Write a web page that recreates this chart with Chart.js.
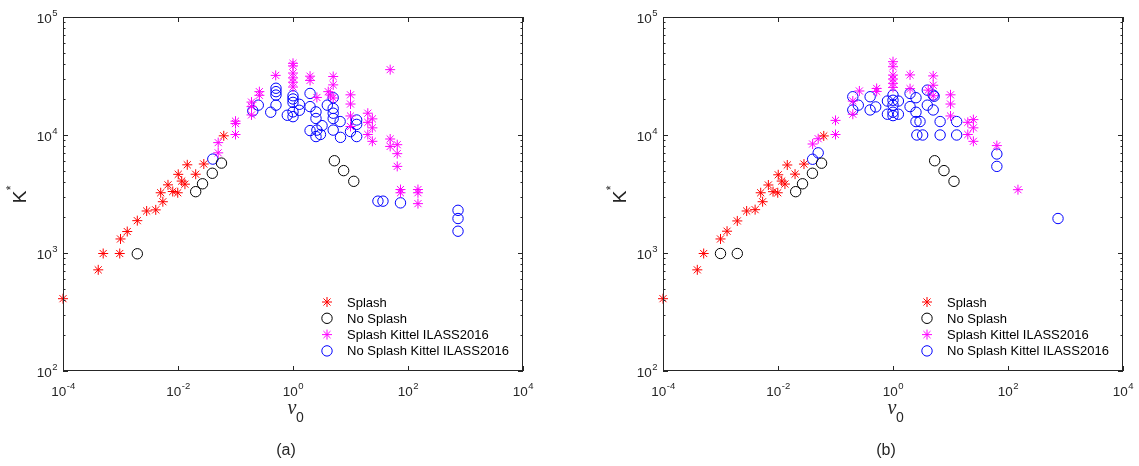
<!DOCTYPE html>
<html>
<head>
<meta charset="utf-8">
<script src="https://cdn.jsdelivr.net/npm/chart.js@4.4.1/dist/chart.umd.min.js"></script>
<style>
  body { margin: 0; background: #fff; width: 1139px; height: 466px; overflow: hidden; position: relative; }
  canvas { position: absolute; top: 0; }
  #ca { left: 0; }
  #cb { left: 570px; }
</style>
</head>
<body>
<canvas id="ca" width="570" height="466"></canvas>
<canvas id="cb" width="569" height="466"></canvas>
<script>
// Panel (a) (nu_0, K*)
const A_SPLASH_NU = [1e-4, 4.1e-4, 5.0e-4, 9.7e-4, 1.0e-3, 1.31e-3, 1.96e-3, 2.85e-3, 4.1e-3, 5.45e-3, 5.0e-3,
  6.7e-3, 8.1e-3, 0.0099, 0.0101, 0.0116, 0.0132, 0.0145, 0.0203, 0.0281, 0.0625];
const A_SPLASH_K = [410, 720, 990, 990, 1315, 1520, 1880, 2270, 2320, 2720, 3240,
  3780, 3320, 3240, 4640, 4070, 3830, 5590, 4650, 5680, 9840];

const A_NOSPLASH_NU = [1.96e-3, 0.0203, 0.0267, 0.0395, 0.057, 5.24, 7.6, 11.4];
const A_NOSPLASH_K = [985, 3310, 3860, 4740, 5780, 6050, 4990, 4050];

const A_KITTEL_SPLASH_NU = [1, 1, 1, 1, 1, 1, 0.5, 1.98, 1.98, 5.0, 5.0, 4.1, 4.5, 5.0, 2.6,
  10, 10, 10, 10, 0.26, 0.26, 0.19, 0.19, 0.19, 0.1, 0.1, 0.1, 0.05, 0.05,
  20, 20, 20, 24, 24, 24, 49, 49, 49, 65, 65, 65, 74, 74, 149, 149, 149];
const A_KITTEL_SPLASH_K = [40500, 38500, 33500, 30500, 28000, 25500, 32000, 31500, 29000, 31300, 26600, 23300, 21800, 20600, 20800,
  21900, 18300, 14500, 11800, 23300, 21700, 19000, 17400, 14800, 13100, 12500, 10100, 8620, 7060,
  15300, 12800, 10100, 13700, 11500, 8840, 35800, 9250, 8000, 8280, 6950, 5420, 3450, 3240, 3450, 3240, 2620];

const A_KITTEL_NOSPLASH_NU = [0.0403, 0.2, 0.249, 0.41, 0.506, 0.506, 0.506, 0.506, 0.796,
  1, 1, 1, 1, 1, 1.29, 1.29, 1.98, 1.98, 2.51, 2.51, 1.98, 2.6, 2.51, 3.0, 3.2,
  3.95, 5.0, 5.0, 5.0, 5.0, 5.0, 6.6, 6.7, 10, 12.8, 12.8, 12.8, 30, 36.7, 74, 741, 741, 741];
const A_KITTEL_NOSPLASH_K = [6250, 16000, 17900, 15600, 24900, 23300, 21800, 17900, 14700,
  21500, 20200, 18900, 15700, 14300, 18200, 16200, 22500, 17400, 15700, 13800, 10900, 11000, 9700, 10100, 12000,
  17900, 20700, 16800, 15300, 13800, 11000, 13000, 9550, 10700, 13400, 12300, 9700, 2750, 2750, 2660, 2300, 1960, 1530];

// Panel (b)
const B_SPLASH_NU = [1e-4, 3.95e-4, 5.1e-4, 1.0e-3, 1.3e-3, 1.96e-3, 2.85e-3, 4.0e-3, 5.4e-3, 5.0e-3,
  6.8e-3, 8.2e-3, 0.0099, 0.0101, 0.0116, 0.0132, 0.0145, 0.0198, 0.0283, 0.0625];
const B_SPLASH_K = [410, 720, 990, 1315, 1530, 1870, 2270, 2330, 2720, 3240,
  3770, 3310, 3240, 4600, 4070, 3840, 5570, 4660, 5670, 9820];

const B_NOSPLASH_NU = [1.0e-3, 1.96e-3, 0.0203, 0.0267, 0.0397, 0.0572, 5.3, 7.7, 11.5];
const B_NOSPLASH_K = [990, 990, 3310, 3860, 4740, 5770, 6050, 4990, 4050];

const B_KITTEL_SPLASH_NU = [1, 1, 1, 1, 1, 1, 1.98, 1.98, 5.0, 5.0, 4.1, 5.0, 0.26, 0.52, 0.52,
  0.2, 0.2, 0.1, 0.1, 0.04, 0.05, 10, 10, 10, 20, 20, 25, 25, 25, 64, 149];
const B_KITTEL_SPLASH_K = [41800, 37900, 32200, 29800, 27400, 25300, 32300, 24700, 31700, 26400, 24000, 21500, 23600, 24800, 23400,
  19400, 15000, 13300, 10100, 8390, 9300, 21900, 18300, 14500, 12800, 10100, 13500, 11500, 8840, 8130, 3440];

const B_KITTEL_NOSPLASH_NU = [0.04, 0.05, 0.2, 0.2, 0.249, 0.4, 0.4, 0.5, 0.8, 0.8,
  1, 1, 1, 1, 1, 1.24, 1.24, 1.98, 1.98, 2.51, 2.51, 2.51, 2.95, 2.6, 3.28,
  3.95, 3.95, 5.0, 5.2, 5.0, 6.6, 6.6, 12.8, 12.8, 64, 64, 741];
const B_KITTEL_NOSPLASH_K = [6230, 7060, 21100, 16300, 17900, 21100, 16300, 17300, 19400, 15000,
  21800, 19700, 17900, 15600, 14600, 19400, 15000, 22500, 17400, 20700, 15600, 13000, 13000, 10000, 10000,
  24000, 17900, 21800, 21300, 16300, 13000, 10000, 13000, 10000, 6900, 5420, 1960];

const LEGEND_LABELS = ["Splash", "No Splash", "Splash Kittel ILASS2016", "No Splash Kittel ILASS2016"];
const X_TICK_EXP = [-4, -2, 0, 2, 4];
const Y_TICK_EXP = [2, 3, 4, 5];

const AXIS_COLOR = "#262626";
const FONT = "Liberation Sans, Arial, sans-serif";

function pts(xs, ys) {
  return xs.map((x, i) => ({ x, y: ys[i] }));
}

function series(label, data, color, style) {
  return {
    label,
    data,
    borderColor: color,
    backgroundColor: "rgba(0,0,0,0)",
    pointStyle: style,
    pointRadius: style === "star" ? 5 : 5.2,
    pointBorderWidth: 1,
    pointHoverRadius: 5,
    clip: false,
  };
}

// "10" with a raised exponent; anchor is "center" (x labels) or "right" (y labels)
function drawPow(ctx, exp, x, baseline, anchor) {
  ctx.font = "13.5px " + FONT;
  const wb = ctx.measureText("10").width;
  ctx.font = "9.5px " + FONT;
  const we = ctx.measureText(String(exp)).width;
  const left = anchor === "center" ? x - (wb + we) / 2 : x - (wb + we);
  ctx.textAlign = "left";
  ctx.textBaseline = "alphabetic";
  ctx.font = "13.5px " + FONT;
  ctx.fillText("10", left, baseline);
  ctx.font = "9.5px " + FONT;
  ctx.fillText(String(exp), left + wb + 0.5, baseline - 7);
}

const matlabAxes = {
  id: "matlabAxes",
  afterDatasetsDraw(chart, args, opts) {
    const { ctx, chartArea: a } = chart;
    const xs = chart.scales.x, ys = chart.scales.y;
    ctx.save();
    ctx.strokeStyle = AXIS_COLOR;
    ctx.fillStyle = AXIS_COLOR;
    ctx.lineWidth = 1;

    // box
    ctx.strokeRect(a.left + 0.5, a.top + 0.5, a.right - a.left - 1, a.bottom - a.top - 1);

    // ticks pointing inwards
    ctx.beginPath();
    X_TICK_EXP.forEach((e) => {
      const px = Math.round(xs.getPixelForValue(Math.pow(10, e))) + 0.5;
      ctx.moveTo(px, a.bottom); ctx.lineTo(px, a.bottom - 5);
      ctx.moveTo(px, a.top); ctx.lineTo(px, a.top + 5);
    });
    for (let d = 2; d <= 5; d++) {
      const py = Math.round(ys.getPixelForValue(Math.pow(10, d))) + 0.5;
      ctx.moveTo(a.left, py); ctx.lineTo(a.left + 5, py);
      ctx.moveTo(a.right, py); ctx.lineTo(a.right - 5, py);
      if (d === 5) continue;
      for (let m = 2; m <= 9; m++) {
        const pm = Math.round(ys.getPixelForValue(m * Math.pow(10, d))) + 0.5;
        ctx.moveTo(a.left, pm); ctx.lineTo(a.left + 2.5, pm);
        ctx.moveTo(a.right, pm); ctx.lineTo(a.right - 2.5, pm);
      }
    }
    ctx.stroke();

    // tick labels
    X_TICK_EXP.forEach((e) => {
      drawPow(ctx, e, xs.getPixelForValue(Math.pow(10, e)), a.bottom + 25, "center");
    });
    Y_TICK_EXP.forEach((e) => {
      drawPow(ctx, e, a.left - 6, ys.getPixelForValue(Math.pow(10, e)) + 5.5, "right");
    });

    // axis labels
    const cx = (a.left + a.right) / 2;
    ctx.textAlign = "center";
    ctx.textBaseline = "middle";
    ctx.font = "italic 20px Liberation Serif, Times New Roman, serif";
    ctx.fillText("\u03bd", cx - 1, a.bottom + 38);
    ctx.font = "14px " + FONT;
    ctx.fillText("0", cx + 7, a.bottom + 47);

    ctx.font = "16px " + FONT;
    ctx.fillText(opts.caption, cx - 7, a.bottom + 80);

    ctx.save();
    ctx.translate(a.left - 42, (a.top + a.bottom) / 2 + 3);
    ctx.rotate(-Math.PI / 2);
    ctx.font = "19px " + FONT;
    ctx.fillText("K", 0, 0);
    ctx.font = "12px " + FONT;
    ctx.fillText("*", 9, -9);
    ctx.restore();

    // legend (no box), inside lower right
    const lx = a.left + 264, ly = a.top + 285;
    chart.data.datasets.forEach((ds, i) => {
      const y = ly + i * 16.3;
      ctx.strokeStyle = ds.borderColor;
      ctx.fillStyle = "rgba(0,0,0,0)";
      ctx.lineWidth = 1;
      Chart.helpers.drawPoint(ctx, { pointStyle: ds.pointStyle, radius: ds.pointRadius, rotation: 0, borderWidth: 1 }, lx, y);
      ctx.fillStyle = "#000";
      ctx.font = "13px " + FONT;
      ctx.textAlign = "left";
      ctx.textBaseline = "middle";
      ctx.fillText(ds.label, lx + 20, y + 1);
    });
    ctx.restore();
  },
};

function buildPanel(canvasId, caption, padLeft, padRight, sets) {
  return new Chart(document.getElementById(canvasId), {
    type: "scatter",
    data: {
      datasets: [
        series(LEGEND_LABELS[0], pts(sets[0], sets[1]), "#ff0000", "star"),
        series(LEGEND_LABELS[1], pts(sets[2], sets[3]), "#000000", "circle"),
        series(LEGEND_LABELS[2], pts(sets[4], sets[5]), "#ff00ff", "star"),
        series(LEGEND_LABELS[3], pts(sets[6], sets[7]), "#0000ff", "circle"),
      ],
    },
    options: {
      responsive: false,
      animation: false,
      devicePixelRatio: 1,
      layout: { padding: { left: padLeft, right: padRight, top: 17, bottom: 95 } },
      plugins: {
        legend: { display: false },
        tooltip: { enabled: false },
        matlabAxes: { caption },
      },
      scales: {
        x: { type: "logarithmic", min: 1e-4, max: 1e4, display: false },
        y: { type: "logarithmic", min: 100, max: 1e5, display: false },
      },
    },
    plugins: [matlabAxes],
  });
}

buildPanel("ca", "(a)", 63, 47, [A_SPLASH_NU, A_SPLASH_K, A_NOSPLASH_NU, A_NOSPLASH_K,
  A_KITTEL_SPLASH_NU, A_KITTEL_SPLASH_K, A_KITTEL_NOSPLASH_NU, A_KITTEL_NOSPLASH_K]);
buildPanel("cb", "(b)", 93, 16, [B_SPLASH_NU, B_SPLASH_K, B_NOSPLASH_NU, B_NOSPLASH_K,
  B_KITTEL_SPLASH_NU, B_KITTEL_SPLASH_K, B_KITTEL_NOSPLASH_NU, B_KITTEL_NOSPLASH_K]);
</script>
</body>
</html>
